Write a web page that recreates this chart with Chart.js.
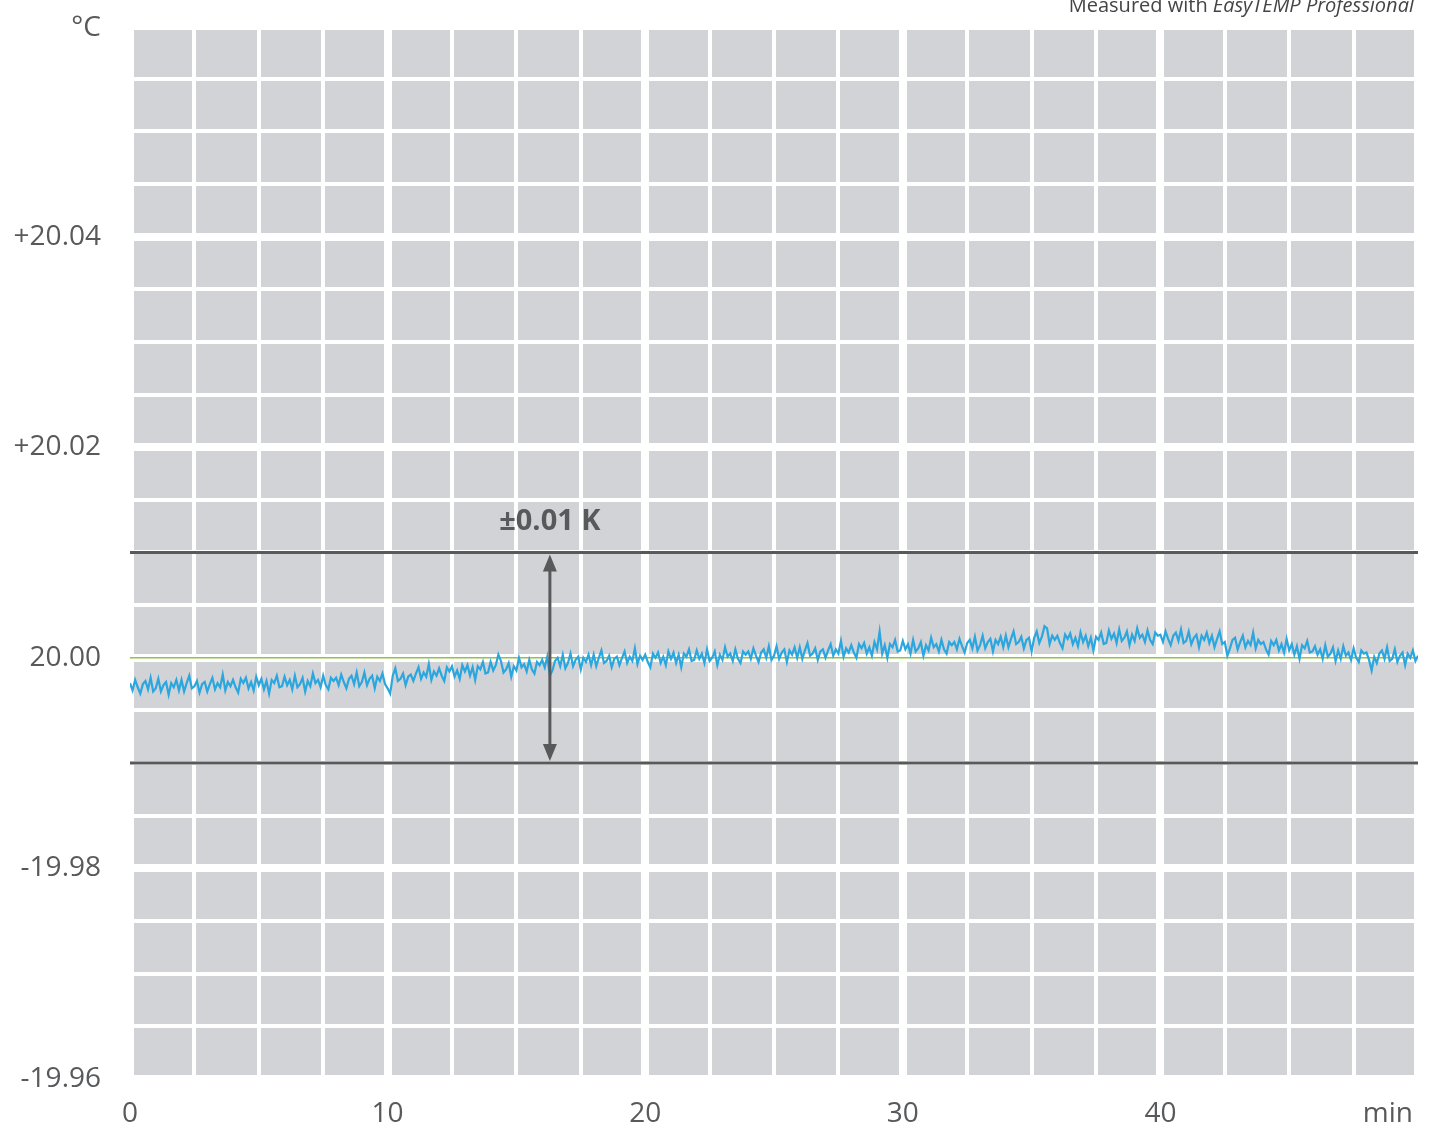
<!DOCTYPE html>
<html lang="en">
<head>
    <meta charset="UTF-8">
    <title>Temperature stability</title>
    <script src="https://cdn.jsdelivr.net/npm/chart.js"></script>
    <style>
        html, body { margin: 0; padding: 0; background: #fff; }
        #wrap { width: 1432px; height: 1131px; position: relative; }
    </style>
</head>
<body>
    <div id="wrap"><canvas id="tempChart"></canvas></div>

    <script>
        // sample spacing in minutes
        const sampleStep = 0.1;

        // measured temperature, degC, one row per minute (0 .. 50 min)
        const temperature = [
            19.9976, 19.9969, 19.9979, 19.9972, 19.9966, 19.9975, 19.9978, 19.9970, 19.9981, 19.9968,
            19.9971, 19.9980, 19.9968, 19.9974, 19.9977, 19.9965, 19.9976, 19.9972, 19.9979, 19.9969,
            19.9979, 19.9968, 19.9976, 19.9983, 19.9971, 19.9973, 19.9978, 19.9967, 19.9975, 19.9977,
            19.9968, 19.9975, 19.9981, 19.9970, 19.9976, 19.9972, 19.9984, 19.9969, 19.9977, 19.9973,
            19.9979, 19.9972, 19.9967, 19.9980, 19.9976, 19.9981, 19.9971, 19.9977, 19.9969, 19.9982,
            19.9974, 19.9980, 19.9970, 19.9978, 19.9966, 19.9979, 19.9976, 19.9983, 19.9972, 19.9973,
            19.9982, 19.9974, 19.9979, 19.9970, 19.9983, 19.9972, 19.9975, 19.9981, 19.9968, 19.9978,
            19.9973, 19.9985, 19.9976, 19.9979, 19.9972, 19.9983, 19.9974, 19.9970, 19.9981, 19.9978,
            19.9981, 19.9974, 19.9984, 19.9977, 19.9971, 19.9980, 19.9983, 19.9975, 19.9986, 19.9973,
            19.9977, 19.9986, 19.9974, 19.9980, 19.9983, 19.9971, 19.9982, 19.9978, 19.9985, 19.9975,
            19.9971, 19.9966, 19.9983, 19.9990, 19.9978, 19.9980, 19.9985, 19.9974, 19.9982, 19.9984,
            19.9978, 19.9985, 19.9991, 19.9980, 19.9986, 19.9982, 19.9994, 19.9979, 19.9987, 19.9983,
            19.9990, 19.9983, 19.9978, 19.9991, 19.9987, 19.9992, 19.9982, 19.9988, 19.9980, 19.9993,
            19.9987, 19.9993, 19.9983, 19.9991, 19.9979, 19.9992, 19.9989, 19.9996, 19.9985, 19.9986,
            19.9996, 19.9988, 19.9993, 20.0003, 19.9997, 19.9986, 19.9989, 19.9995, 19.9982, 19.9992,
            19.9988, 20.0000, 19.9991, 19.9994, 19.9987, 19.9998, 19.9989, 19.9985, 19.9996, 19.9993,
            19.9998, 19.9991, 20.0001, 19.9983, 19.9988, 19.9997, 20.0000, 19.9992, 20.0003, 19.9990,
            19.9995, 20.0004, 19.9992, 19.9998, 20.0001, 19.9989, 20.0000, 19.9996, 20.0003, 19.9993,
            20.0003, 19.9992, 20.0000, 20.0007, 19.9995, 19.9997, 20.0002, 19.9991, 19.9999, 20.0001,
            19.9993, 20.0000, 20.0006, 19.9995, 20.0001, 19.9997, 20.0009, 19.9994, 20.0002, 19.9998,
            20.0003, 19.9996, 19.9991, 20.0004, 20.0000, 20.0005, 19.9995, 20.0001, 19.9993, 20.0006,
            19.9999, 20.0005, 19.9995, 20.0003, 19.9991, 20.0004, 20.0001, 20.0008, 19.9997, 19.9998,
            20.0007, 19.9999, 20.0004, 19.9995, 20.0008, 19.9997, 20.0000, 20.0006, 19.9993, 20.0003,
            19.9998, 20.0010, 20.0001, 20.0004, 19.9997, 20.0008, 19.9999, 19.9995, 20.0006, 20.0003,
            20.0006, 19.9999, 20.0009, 20.0002, 19.9996, 20.0005, 20.0008, 20.0000, 20.0011, 19.9998,
            20.0002, 20.0011, 19.9999, 20.0005, 20.0008, 19.9996, 20.0007, 20.0003, 20.0010, 20.0000,
            20.0010, 19.9999, 20.0007, 20.0014, 20.0002, 20.0004, 20.0009, 19.9998, 20.0006, 20.0008,
            20.0000, 20.0007, 20.0013, 20.0002, 20.0008, 20.0004, 20.0016, 20.0001, 20.0009, 20.0005,
            20.0012, 20.0005, 20.0000, 20.0013, 20.0009, 20.0014, 20.0004, 20.0010, 20.0002, 20.0015,
            20.0008, 20.0025, 20.0004, 20.0012, 20.0000, 20.0013, 20.0010, 20.0017, 20.0006, 20.0007,
            20.0016, 20.0008, 20.0013, 20.0004, 20.0017, 20.0006, 20.0009, 20.0015, 20.0002, 20.0012,
            20.0007, 20.0019, 20.0010, 20.0013, 20.0006, 20.0017, 20.0008, 20.0004, 20.0015, 20.0012,
            20.0015, 20.0008, 20.0018, 20.0011, 20.0005, 20.0014, 20.0017, 20.0009, 20.0020, 20.0007,
            20.0012, 20.0021, 20.0009, 20.0015, 20.0018, 20.0006, 20.0017, 20.0013, 20.0020, 20.0010,
            20.0021, 20.0010, 20.0018, 20.0025, 20.0013, 20.0015, 20.0020, 20.0009, 20.0017, 20.0019,
            20.0006, 20.0019, 20.0025, 20.0014, 20.0020, 20.0030, 20.0028, 20.0013, 20.0021, 20.0017,
            20.0021, 20.0014, 20.0009, 20.0022, 20.0018, 20.0023, 20.0013, 20.0019, 20.0011, 20.0024,
            20.0015, 20.0021, 20.0011, 20.0019, 20.0007, 20.0020, 20.0017, 20.0024, 20.0013, 20.0014,
            20.0026, 20.0018, 20.0023, 20.0014, 20.0027, 20.0016, 20.0019, 20.0025, 20.0012, 20.0022,
            20.0016, 20.0028, 20.0019, 20.0022, 20.0015, 20.0026, 20.0017, 20.0013, 20.0024, 20.0021,
            20.0022, 20.0015, 20.0025, 20.0018, 20.0012, 20.0021, 20.0024, 20.0016, 20.0027, 20.0014,
            20.0016, 20.0025, 20.0013, 20.0019, 20.0022, 20.0010, 20.0021, 20.0017, 20.0024, 20.0014,
            20.0021, 20.0010, 20.0018, 20.0025, 20.0013, 20.0015, 20.0002, 20.0009, 20.0017, 20.0019,
            20.0008, 20.0015, 20.0021, 20.0010, 20.0016, 20.0012, 20.0024, 20.0009, 20.0017, 20.0013,
            20.0015, 20.0008, 20.0003, 20.0016, 20.0012, 20.0017, 20.0007, 20.0013, 20.0005, 20.0018,
            20.0007, 20.0013, 20.0003, 20.0011, 19.9999, 20.0012, 20.0009, 20.0016, 20.0005, 20.0006,
            20.0011, 20.0003, 20.0008, 19.9999, 20.0012, 20.0001, 20.0004, 20.0010, 19.9997, 20.0007,
            19.9999, 20.0011, 20.0002, 20.0005, 19.9998, 20.0009, 20.0000, 19.9996, 20.0007, 20.0004,
            20.0005, 19.9998, 19.9988, 20.0001, 19.9995, 20.0004, 20.0007, 19.9999, 20.0010, 19.9997,
            19.9999, 20.0008, 19.9996, 20.0002, 20.0005, 19.9993, 20.0004, 20.0000, 20.0007, 19.9997,
            20.0002
        ];

        // reference lines
        const setpoint = 20.00;
        const limitUpper = 20.01;
        const limitLower = 19.99;
        const spanTimes = [0, 50];
        const arrowTime = 16.3;

        // axis labelling (as printed on the original)
        const yTickValues = [19.96, 19.98, 20.00, 20.02, 20.04];
        const yTickLabels = ['-19.96', '-19.98', '20.00', '+20.02', '+20.04'];
        const xTickValues = [0, 10, 20, 30, 40];
        const xUnit = 'min';
        const yUnit = '°C';
        const toleranceLabel = '±0.01 K';

        const FONT = "'Open Sans', 'Noto Sans', sans-serif";
        const TEXT = '#58595b';

        const tempPoints = temperature.map((v, i) => ({ x: Math.round(i * sampleStep * 10) / 10, y: v }));
        const flat = v => spanTimes.map(t => ({ x: t, y: v }));

        // gray plot background + annotation text, arrow
        const extras = {
            id: 'extras',
            beforeDraw(chart) {
                const { ctx, chartArea: a } = chart;
                ctx.save();
                ctx.fillStyle = '#d1d3d6';
                ctx.fillRect(a.left, a.top, a.right - a.left, a.bottom - a.top);
                ctx.restore();
            },
            afterDraw(chart) {
                const { ctx, chartArea: a } = chart;
                const xs = chart.scales.x, ys = chart.scales.y;
                ctx.save();
                ctx.fillStyle = TEXT;
                ctx.strokeStyle = TEXT;

                // arrow between the limits
                const ax = xs.getPixelForValue(arrowTime);
                const yTop = ys.getPixelForValue(limitUpper) + 2;
                const yBot = ys.getPixelForValue(limitLower) - 2;
                ctx.lineWidth = 3;
                ctx.beginPath();
                ctx.moveTo(ax, yTop + 12);
                ctx.lineTo(ax, yBot - 12);
                ctx.stroke();
                ctx.beginPath();
                ctx.moveTo(ax, yTop); ctx.lineTo(ax - 7, yTop + 17); ctx.lineTo(ax + 7, yTop + 17); ctx.closePath();
                ctx.fill();
                ctx.beginPath();
                ctx.moveTo(ax, yBot); ctx.lineTo(ax - 7, yBot - 17); ctx.lineTo(ax + 7, yBot - 17); ctx.closePath();
                ctx.fill();

                // tolerance label
                ctx.font = 'bold 29px ' + FONT;
                ctx.textAlign = 'center';
                ctx.textBaseline = 'alphabetic';
                ctx.fillText(toleranceLabel, ax, ys.getPixelForValue(limitUpper) - 23);

                // units
                ctx.font = '28px ' + FONT;
                ctx.textAlign = 'right';
                ctx.fillText(yUnit, 101, 36);
                ctx.fillText(xUnit, 1413, 1122);

                // source note, top right
                ctx.font = 'italic 20px ' + FONT;
                const part2 = 'EasyTEMP Professional';
                const w2 = ctx.measureText(part2).width;
                ctx.fillStyle = '#444';
                ctx.fillText(part2, 1414, 12);
                ctx.font = '20px ' + FONT;
                ctx.fillText('Measured with ', 1414 - w2, 12);
                ctx.restore();
            }
        };

        const ctx = document.getElementById('tempChart').getContext('2d');
        new Chart(ctx, {
            type: 'line',
            data: {
                datasets: [
                    {
                        label: 'Temperature',
                        data: tempPoints,
                        borderColor: '#2ba6de',
                        borderWidth: 2.2,
                        pointRadius: 0,
                        tension: 0,
                        order: 0
                    },
                    {
                        label: 'Upper limit',
                        data: flat(limitUpper),
                        borderColor: '#58595b',
                        borderWidth: 3,
                        pointRadius: 0,
                        order: 1
                    },
                    {
                        label: 'Lower limit',
                        data: flat(limitLower),
                        borderColor: '#58595b',
                        borderWidth: 3,
                        pointRadius: 0,
                        order: 1
                    },
                    {
                        label: 'Setpoint',
                        data: flat(setpoint),
                        borderColor: '#8dc63f',
                        borderWidth: 1.5,
                        pointRadius: 0,
                        order: 2
                    }
                ]
            },
            options: {
                responsive: true,
                maintainAspectRatio: false,
                animation: false,
                layout: { padding: { top: 26, right: 14, left: 0, bottom: 0 } },
                plugins: { legend: { display: false }, tooltip: { enabled: false } },
                scales: {
                    x: {
                        type: 'linear',
                        min: 0,
                        max: 50,
                        border: { display: false },
                        grid: {
                            color: '#ffffff',
                            drawTicks: false,
                            lineWidth: c => (c.tick && c.tick.value % 10 === 0) ? 8 : 4
                        },
                        ticks: {
                            stepSize: 2.5,
                            autoSkip: false,
                            maxRotation: 0,
                            padding: 18,
                            color: TEXT,
                            font: { family: FONT, size: 28 },
                            callback: v => xTickValues.includes(v) ? String(v) : ''
                        },
                        afterFit: s => {
                            s.height = 52;
                            s.paddingLeft = 0;
                            s.paddingRight = 0;
                        }
                    },
                    y: {
                        type: 'linear',
                        min: 19.96,
                        max: 20.06,
                        border: { display: false },
                        grid: {
                            color: '#ffffff',
                            drawTicks: false,
                            lineWidth: c => (c.tick && Math.round(c.tick.value * 1000) % 20 === 0) ? 8 : 4
                        },
                        ticks: {
                            stepSize: 0.005,
                            autoSkip: false,
                            padding: 29,
                            color: TEXT,
                            font: { family: FONT, size: 28 },
                            callback: v => {
                                const i = yTickValues.findIndex(t => Math.abs(t - v) < 1e-6);
                                return i >= 0 ? yTickLabels[i] : '';
                            }
                        },
                        afterFit: s => {
                            s.width = 130;
                            s.paddingTop = 0;
                            s.paddingBottom = 0;
                        }
                    }
                }
            },
            plugins: [extras]
        });
    </script>
</body>
</html>
